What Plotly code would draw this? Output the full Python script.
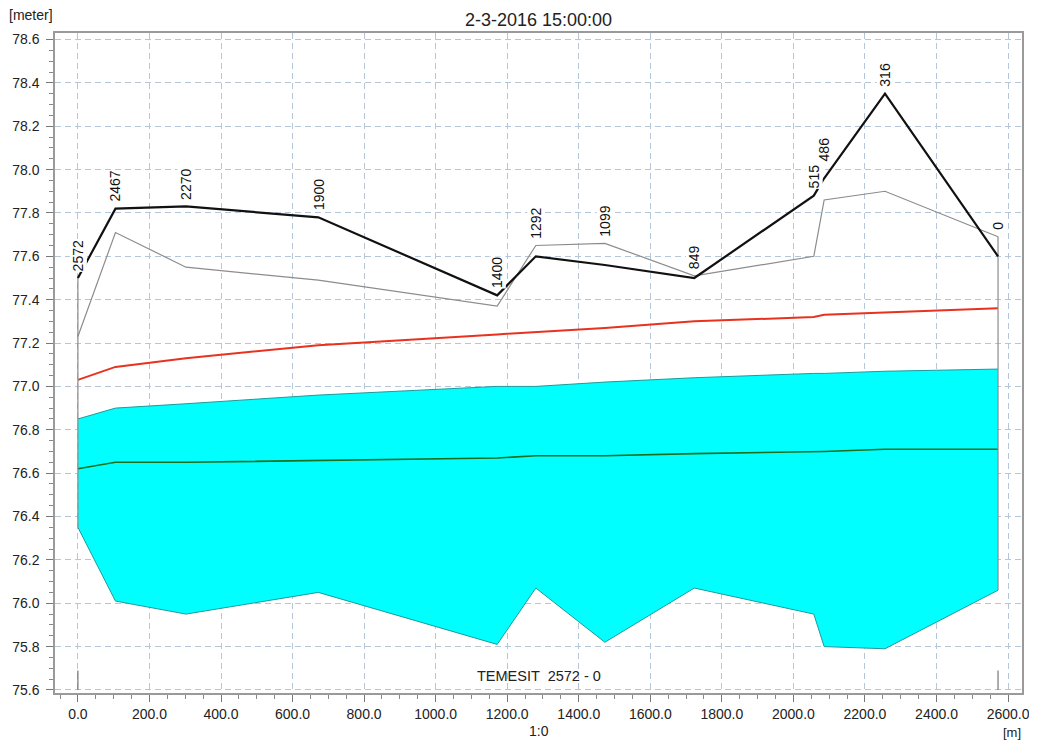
import plotly.graph_objects as go

# ---- data ----
chainage = [2572, 2467, 2270, 1900, 1400, 1292, 1099, 849, 515, 486, 316, 0]
distance = [0, 105, 302, 672, 1172, 1280, 1473, 1723, 2057, 2086, 2256, 2572]
bank_black = [77.50, 77.82, 77.83, 77.78, 77.42, 77.60, 77.56, 77.50, 77.88, 77.96, 78.35, 77.60]
bank_gray = [77.23, 77.71, 77.55, 77.49, 77.37, 77.65, 77.66, 77.51, 77.60, 77.86, 77.90, 77.69]
red_level = [77.03, 77.09, 77.13, 77.19, 77.24, 77.25, 77.27, 77.30, 77.32, 77.33, 77.34, 77.36]
water_level = [76.85, 76.90, 76.92, 76.96, 77.00, 77.00, 77.02, 77.04, 77.06, 77.06, 77.07, 77.08]
green_level = [76.62, 76.65, 76.65, 76.66, 76.67, 76.68, 76.68, 76.69, 76.70, 76.70, 76.71, 76.71]
bed_level = [76.35, 76.01, 75.95, 76.05, 75.81, 76.07, 75.82, 76.07, 75.95, 75.80, 75.79, 76.06]

title_text = "2-3-2016 15:00:00"
branch_text = "TEMESIT  2572 - 0"
y_unit = "[meter]"
x_unit = "[m]"
x_sub = "1:0"
marker_height = 0.09  # height of start/end markers above axis floor
y_floor = 75.6

FONT = "Liberation Sans, Arial, sans-serif"

fig = go.Figure()

# bed (lower edge of water body)
fig.add_trace(go.Scatter(x=distance, y=bed_level, mode="lines",
                         line=dict(color="#1f9a9a", width=1), showlegend=False,
                         hoverinfo="skip"))
# water surface with fill down to bed
fig.add_trace(go.Scatter(x=distance, y=water_level, mode="lines", fill="tonexty",
                         fillcolor="#00FFFF", line=dict(color="#1f9a9a", width=1),
                         showlegend=False, hoverinfo="skip"))
# green line
fig.add_trace(go.Scatter(x=distance, y=green_level, mode="lines",
                         line=dict(color="#1b6e1b", width=1.6), showlegend=False))
# red line
fig.add_trace(go.Scatter(x=distance, y=red_level, mode="lines",
                         line=dict(color="#e8321e", width=2), showlegend=False))
# gray bank line
fig.add_trace(go.Scatter(x=distance, y=bank_gray, mode="lines",
                         line=dict(color="#8c8c8c", width=1.2), showlegend=False))
# end walls (vertical gray lines at both ends)
left_top = max(bank_black[0], bank_gray[0])
right_top = max(bank_black[-1], bank_gray[-1])
fig.add_trace(go.Scatter(x=[distance[0], distance[0], None, distance[-1], distance[-1]],
                         y=[bed_level[0], left_top, None, bed_level[-1], right_top],
                         mode="lines", line=dict(color="#8c8c8c", width=1.2),
                         showlegend=False))
# black bank line
fig.add_trace(go.Scatter(x=distance, y=bank_black, mode="lines",
                         line=dict(color="#111111", width=2.2), showlegend=False))
# start/end markers near the axis floor
fig.add_trace(go.Scatter(x=[distance[0], distance[0], None, distance[-1], distance[-1]],
                         y=[y_floor, y_floor + marker_height, None, y_floor, y_floor + marker_height],
                         mode="lines", line=dict(color="#777777", width=1.2),
                         showlegend=False))

extra_shift = {486: 10}
annotations = []
for c, d, vb, vg in zip(chainage, distance, bank_black, bank_gray):
    annotations.append(dict(x=d, y=max(vb, vg), xref="x", yref="y", text=str(c),
                            textangle=-90, showarrow=False, xanchor="center",
                            yanchor="bottom", yshift=6 + extra_shift.get(c, 0),
                            bgcolor="white", borderpad=0,
                            font=dict(family=FONT, size=14, color="#111111")))

annotations += [
    dict(x=0.5, y=1, xref="paper", yref="paper", text=title_text, showarrow=False,
         xanchor="center", yanchor="bottom", yshift=1,
         font=dict(family=FONT, size=18, color="#222222")),
    dict(x=0, y=1, xref="paper", yref="paper", text=y_unit, showarrow=False,
         xanchor="center", yanchor="bottom", xshift=-24, yshift=8,
         font=dict(family=FONT, size=14, color="#222222")),
    dict(x=0.5, y=0, xref="paper", yref="paper", text=branch_text, showarrow=False,
         xanchor="center", yanchor="bottom", yshift=7,
         font=dict(family=FONT, size=14.5, color="#222222")),
    dict(x=0.5, y=0, xref="paper", yref="paper", text=x_sub, showarrow=False,
         xanchor="center", yanchor="top", yshift=-28,
         font=dict(family=FONT, size=14, color="#222222")),
    dict(x=1, y=0, xref="paper", yref="paper", text=x_unit, showarrow=False,
         xanchor="center", yanchor="top", xshift=-10, yshift=-30,
         font=dict(family=FONT, size=13, color="#222222")),
]

grid_col = "#b4c6d8"
fig.update_layout(
    width=1029, height=734,
    margin=dict(l=47, r=15, t=25, b=49, autoexpand=False),
    paper_bgcolor="white", plot_bgcolor="white",
    annotations=annotations,
    font=dict(family=FONT, size=14, color="#222222"),
    xaxis=dict(range=[-64, 2639], tick0=0, dtick=200, tickformat=".1f",
               automargin=False,
               showgrid=True, gridcolor=grid_col, griddash="6px,4px", gridwidth=1,
               showline=True, linecolor="#9a9a9a", linewidth=1.5, mirror=True,
               ticks="outside", ticklen=7, tickcolor="#777777",
               ticklabelstandoff=0,
               minor=dict(dtick=50, ticks="outside", ticklen=4, tickcolor="#888888",
                          showgrid=False),
               zeroline=False, tickfont=dict(size=14, color="#222222")),
    yaxis=dict(range=[75.586, 78.63], tick0=75.6, dtick=0.2, tickformat=".1f",
               automargin=False,
               showgrid=True, gridcolor=grid_col, griddash="6px,4px", gridwidth=1,
               showline=True, linecolor="#9a9a9a", linewidth=1.5, mirror=True,
               ticks="outside", ticklen=7, tickcolor="#777777",
               ticklabelstandoff=4,
               minor=dict(dtick=0.05, ticks="outside", ticklen=4, tickcolor="#888888",
                          showgrid=False),
               zeroline=False, tickfont=dict(size=14, color="#222222")),
)

fig.write_html("out.html")
